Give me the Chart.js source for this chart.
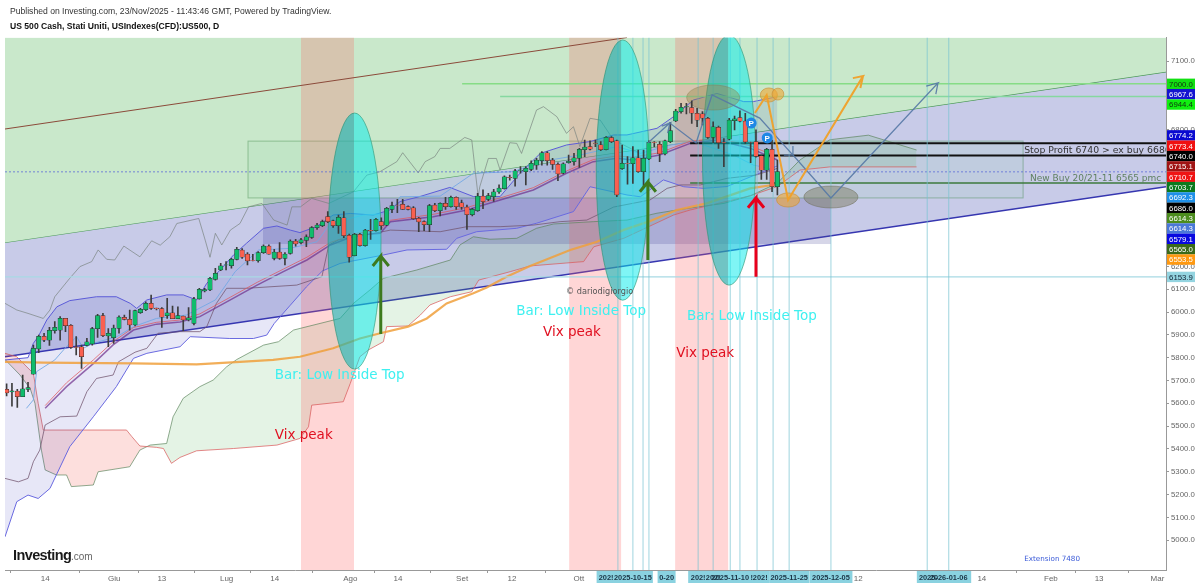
<!DOCTYPE html>
<html>
<head>
<meta charset="utf-8">
<title>US 500 Cash</title>
<script src="https://cdn.jsdelivr.net/npm/chart.js@4"></script>
<style>
  body { margin: 0; background: #fff; }
  canvas { display: block; }
</style>
</head>
<body>
<canvas id="usChart" width="1200" height="585"></canvas>
<script>
// Candles, x = bar number from the left edge
const opens = [5661,5650,5654,5629,5661,5728,5838,5893,5877,5918,5921,5972,5942,5848,5848,5854,5860,5927,5984,5895,5888,5928,5977,5968,5943,5997,6010,6038,6017,6015,5984,5997,5971,5982,5965,5950,6058,6092,6097,6143,6184,6206,6203,6231,6272,6254,6226,6225,6260,6289,6235,6263,6235,6257,6311,6304,6314,6327,6370,6378,6418,6400,6378,6413,6336,6247,6340,6291,6358,6356,6396,6381,6450,6469,6472,6462,6457,6411,6396,6383,6469,6444,6476,6462,6503,6479,6460,6427,6444,6508,6494,6505,6526,6541,6590,6586,6621,6615,6625,6644,6663,6698,6666,6647,6608,6655,6659,6674,6712,6725,6740,6733,6711,6764,6750,6628,6652,6650,6676,6615,6671,6743,6735,6693,6747,6837,6878,6899,6896,6871,6868,6849,6765,6809,6743,6757,6839,6852,6837,6745,6747,6684,6622,6713,6549];
const highs = [5685,5688,5661,5724,5692,5855,5899,5907,5933,5958,5980,5972,5945,5892,5855,5885,5933,5990,5994,5928,5943,5983,5987,6009,6009,6016,6045,6074,6017,6020,6060,6026,6023,5982,6020,6064,6104,6104,6152,6192,6213,6221,6235,6284,6278,6260,6253,6265,6294,6294,6275,6304,6260,6316,6319,6323,6338,6374,6389,6403,6440,6403,6425,6440,6342,6345,6345,6362,6406,6411,6413,6459,6482,6494,6494,6465,6462,6415,6400,6472,6476,6479,6503,6508,6505,6491,6469,6454,6520,6535,6520,6538,6557,6597,6600,6625,6637,6637,6663,6673,6703,6703,6673,6654,6654,6688,6695,6717,6754,6750,6754,6747,6769,6769,6754,6732,6681,6725,6710,6710,6750,6747,6747,6754,6831,6888,6915,6915,6925,6893,6878,6853,6834,6815,6760,6849,6859,6882,6871,6745,6798,6688,6717,6754,6666];
const lows = [5632,5588,5582,5629,5651,5728,5822,5870,5854,5907,5877,5914,5841,5812,5753,5851,5855,5889,5892,5848,5863,5907,5965,5921,5939,5994,6006,6012,6009,5933,5972,5971,5971,5918,5961,5943,6056,6088,6094,6140,6181,6184,6192,6228,6235,6206,6224,6218,6257,6254,6228,6231,6206,6254,6289,6298,6286,6323,6362,6374,6392,6371,6345,6326,6218,6246,6289,6289,6318,6354,6362,6378,6435,6435,6450,6447,6406,6352,6356,6352,6440,6421,6450,6459,6450,6450,6362,6421,6441,6453,6488,6485,6520,6538,6578,6552,6608,6557,6619,6625,6644,6644,6625,6576,6605,6652,6644,6634,6681,6710,6725,6707,6710,6742,6506,6625,6560,6564,6612,6549,6668,6725,6659,6688,6742,6834,6871,6868,6827,6812,6820,6761,6742,6717,6637,6754,6798,6833,6739,6655,6679,6581,6581,6527,6513];
const closes = [5646,5655,5629,5663,5669,5841,5893,5877,5920,5933,5972,5940,5845,5845,5804,5869,5928,5984,5896,5907,5930,5978,5968,5943,6006,6012,6038,6016,6015,5977,5997,5971,5984,5965,5975,6058,6099,6098,6148,6170,6202,6207,6231,6275,6240,6224,6225,6260,6289,6254,6263,6235,6254,6311,6298,6316,6329,6370,6381,6396,6396,6378,6415,6335,6240,6340,6291,6359,6357,6406,6378,6454,6467,6468,6450,6450,6409,6395,6383,6467,6444,6476,6462,6503,6462,6459,6427,6450,6508,6484,6510,6527,6543,6593,6589,6619,6622,6630,6652,6666,6698,6663,6647,6605,6649,6660,6676,6713,6723,6714,6739,6711,6766,6747,6513,6652,6651,6676,6615,6674,6744,6742,6693,6750,6795,6881,6897,6900,6871,6841,6849,6765,6812,6742,6742,6841,6847,6836,6745,6744,6682,6622,6713,6549,6615];

// Indicator lines as [bar, price]
const kumoA = [[-0.3,5792],[2.5,5724],[4.4,5665],[5.3,5600],[6.5,5395],[7.2,5308],[9.3,5286],[11.2,5286],[12.1,5235],[16.2,5242],[17.1,5300],[23,5322],[24.9,5395],[26.8,5417],[29.9,5424],[31.1,5541],[33,5622],[36.1,5673],[38.6,5702],[41.1,5760],[43,5792],[48,5855],[50.8,5870],[53.6,5921],[62.3,5972],[64.8,6038],[67.9,6097],[70.4,6148],[76.6,6184],[82.9,6228],[84.7,6294],[87.2,6330],[90.3,6319],[95.3,6323],[99,6367],[102.2,6386],[109.6,6396],[115.9,6403],[121.5,6433],[127.1,6454],[134,6476],[139,6510],[144,6565],[148.2,6666],[153.8,6755],[161,6775],[170,6710]];
const kumoB = [[-0.3,5819],[1.9,5804],[5,5731],[5.9,5600],[6.85,5483],[22.4,5483],[23.4,5454],[24.9,5413],[28,5407],[29.3,5402],[30.8,5337],[32.4,5363],[35.5,5392],[42.4,5402],[50.5,5417],[54.8,5446],[56.4,5497],[57,5592],[62.9,5607],[64.2,5687],[66,5804],[67.6,5834],[70.4,5870],[71,5936],[75,5939],[77.3,5987],[79.1,6031],[82.9,6067],[86.9,6089],[88.2,6140],[94.1,6177],[97.8,6202],[107.8,6221],[109.7,6286],[115.3,6323],[124.6,6425],[127.7,6447],[139,6510],[144,6550],[148.2,6622],[153.8,6636],[170,6636]];
const kijun = [[-0.3,5271],[2.2,5256],[4,5271],[5,5344],[6.2,5395],[7.2,5505],[10,5541],[13.1,5544],[15,5651],[16.8,5709],[19.9,5724],[20.9,5782],[24,5824],[26.2,5841],[28.3,5907],[32.4,5914],[36.1,5914],[37.4,5936],[39.2,6038],[41.1,6104],[44.8,6104],[54.2,6118],[57,6140],[58.9,6155],[60.2,6294],[62,6316],[67.3,6338],[71.7,6359],[81,6352],[86,6374],[92.2,6374],[98.4,6381],[103.4,6396],[108.4,6403],[113.4,6460],[120.2,6491],[123.4,6542],[125.9,6557],[129.6,6557],[134.6,6586],[140,6600],[144,6630]];
const chikou = [[-0.3,6038],[1.9,6009],[4,5994],[6.85,5972],[8.1,6009],[9,6067],[11.8,6148],[13.7,6199],[15.9,6221],[17.1,6272],[18.7,6231],[20.2,6228],[21.9,6289],[24.9,6242],[27.1,6312],[28.7,6293],[30.5,6330],[31.8,6388],[35.9,6410],[37.1,6315],[38,6240],[39,6345],[40.2,6294],[41.8,6359],[43.6,6388],[45.2,6461],[47.7,6476],[49.9,6403],[52.4,6381],[53.3,6461],[54.9,6461],[57,6498],[60.2,6476],[64.8,6527],[67.3,6600],[69.75,6615],[72.9,6659],[74,6698],[76.9,6610],[78.2,6659],[80,6681],[81,6717],[82.8,6717],[84.1,6739],[85.6,6765],[86.9,6754],[88.1,6505],[88.4,6549],[90,6673],[91.5,6673],[92.2,6622],[94,6742],[95.3,6739],[96.2,6695],[99,6885],[100.3,6900],[102.8,6856],[104.6,6783],[105.9,6812],[107.1,6725],[109,6849],[110.9,6841],[113.4,6754],[118,6700]];
const bbUpper = [[-0.3,5790],[4,5800],[5,5863],[5.9,5892],[7.5,5965],[9.4,6023],[11.8,6050],[16.8,6067],[20.5,6067],[23.1,6038],[24.3,6016],[26.2,6053],[29.9,6075],[33,6075],[35.5,6053],[37.4,6126],[39.9,6184],[42.4,6250],[44.8,6301],[48,6367],[50.5,6377],[53,6359],[54.8,6348],[57.9,6374],[61,6425],[64.2,6432],[68.5,6425],[71.6,6447],[73.5,6484],[77.2,6506],[82.8,6546],[87.2,6506],[92.2,6506],[95.9,6608],[99.7,6695],[104.6,6732],[109,6747],[113.4,6776],[115.9,6776],[121.5,6805],[124.6,6856],[128.3,6929],[132.7,6958],[137.7,6922],[139.5,6922],[144,6944]];
const bbLower = [[-0.3,5015],[1.9,5169],[4,5198],[5.9,5183],[8.1,5227],[11.8,5410],[16.2,5541],[20.5,5673],[23.7,5797],[26.2,5819],[32.4,5848],[34.3,5892],[41.7,5884],[46.1,5884],[48.6,5899],[50,5950],[53,6030],[56,6110],[59,6180],[62.3,6213],[70.4,6250],[74.8,6272],[82.2,6275],[84.1,6323],[87.8,6352],[95.3,6367],[99,6389],[105.9,6440],[109,6549],[115.9,6513],[118.4,6505],[122.7,6579],[126.5,6549],[130.2,6542],[134.6,6550],[138.3,6586],[144,6640]];
const bbMid = [[3.7,5578],[5,5615],[5.6,5739],[9,5790],[10.9,5841],[13.1,5892],[14.3,5841],[16.2,5863],[20.6,5892],[23.7,5936],[28,5972],[33.6,5987],[39,6053],[42.7,6177],[47.1,6272],[53,6279],[58,6308],[60.5,6389],[66.7,6425],[71.7,6432],[73.5,6505],[81,6508],[87.2,6608],[94.7,6615],[99.7,6659],[107.1,6688],[114,6725],[118.4,6695],[124,6732],[128.3,6747],[135.8,6688],[139.5,6644],[144,6622]];
const maPurple = [[7.2,5578],[11.2,5673],[16.2,5774],[19.9,5856],[23.7,5921],[28,5947],[32.4,5956],[36.1,5980],[41.8,6053],[46.8,6118],[51.7,6177],[56.1,6228],[60.5,6294],[65.5,6338],[69.8,6345],[71.7,6396],[79.7,6418],[86,6447],[92.2,6491],[98.4,6535],[104.6,6608],[109.6,6659],[114,6674],[117,6666],[122,6688],[127.7,6739],[132.7,6754],[139,6717],[144,6666]];
const maRed = [[7.2,5590],[11.2,5690],[16.2,5790],[19.9,5870],[23.7,5932],[28,5955],[32.4,5965],[36.1,5992],[41.8,6065],[46.8,6130],[51.7,6188],[56.1,6240],[60.5,6305],[65.5,6345],[69.8,6360],[71.7,6402],[79.7,6428],[86,6458],[92.2,6500],[98.4,6545],[104.6,6618],[109.6,6668],[114,6684],[117,6678],[122,6698],[127.7,6748],[132.7,6762],[139,6728],[144,6680]];
const ma200 = [[-0.3,5782],[6.85,5778],[23.7,5775],[35.5,5771],[43.6,5782],[49.8,5790],[54.8,5804],[61,5841],[66,5884],[69.8,5907],[75,5936],[78.5,5972],[82.2,6038],[87.2,6082],[89.7,6108],[93.4,6155],[97.8,6202],[105.3,6272],[110.3,6308],[115.3,6360],[119.9,6396],[125.2,6447],[130.8,6476],[138.9,6542],[144,6560]];

// Trend channel and drawn levels
const channelTop = [[-0.3,6302],[216.6,7050]];
const channelBottom = [[-0.3,5804],[216.6,6549]];
const brownTrend = [[-0.3,6802],[115.9,7203]];
const levels = [[7000,85.1],[6944.4,92.2],[6740,127.7],[6686,127.7],[6565,127.7],[6614.3,-0.3],[6153.9,-0.3]];
const levelColors = ['#86dc86','#86d8a0','#111111','#111111','#3d7a3d','#5a6ad8','#a8dae4'];
const levelWidths = [1.5,1.5,2,2,1.5,0.8,1.2];

const vixBands = [[55,64.9],[105.1,114.8],[124.9,134.8]];
const cycleLines = [114.2,117,118.9,120,129.2,132,135.2,137,140.2,143.2,146.2,154,172,176];

// Hand drawn paths on the chart
const arrowGreen1 = [[69.9,5904],[69.9,6245],[68.4,6202],[69.9,6245],[71.4,6202]];
const arrowGreen2 = [[119.8,6228],[119.8,6570],[118.3,6527],[119.8,6570],[121.3,6527]];
const arrowRed = [[140,6155],[140,6500],[138.5,6457],[140,6500],[141.5,6457]];
const orangePath = [[139.8,6872],[142,6951],[146,6491],[160,7034],[158.1,7025],[160,7034],[159.5,6982]];
const bluePath = [[119.8,6741],[123.9,6828],[122.4,6815],[123.9,6828],[123.5,6784],[123.9,6828],[128.8,6741],[131.8,6951],[140.7,6850],[146.9,6688],[145.2,6688],[146.9,6688],[146.9,6728],[146.9,6688],[154,6500],[174,7004],[171.8,6990],[174,7004],[173.6,6955]];

// Ellipses: centre bar, centre price, half width in bars, half height in price
const cyanEllipses = [[65,6311,4.95,561],[115.1,6622,4.95,570],[134.96,6666,4.95,548]];
const oliveEllipses = [[132,6940,4.95,55]];
const grayEllipses = [[154,6504,5.05,48]];
const orangeEllipses = [[142.4,6951,1.6,31],[144.1,6955,1.1,26],[146,6491,2.15,31]];
const pMarks = [[139.1,6828],[142.1,6763]];

// Text on the chart
const barNotes = [[50.1,5707],[95.2,5987],[127.1,5965]];
const vixNotes = [[50.1,5444],[100.2,5895],[125.1,5803]];

// Price tags on the right
const tagPrices = [7000,6967.6,6944.4,6774.2,6773.4,6740,6715.1,6710.7,6703.7,6692.3,6686,6614.3,6614.3,6579.1,6565,6553.5];
const tagColors = ['#12e012','#1414d0','#10f010','#0a0ad0','#f01010','#000000','#a01414','#f01414','#0a7a1e','#1e90e8','#000000','#4c8c1e','#4a78d8','#0808e0','#3a6a1a','#ff9910'];
const tagText = ['#113311','#ffffff','#113311','#ffffff','#ffffff','#ffffff','#ffffff','#ffffff','#ffffff','#ffffff','#ffffff','#ffffff','#ffffff','#ffffff','#ffffff','#ffffff'];

// Axis labels
const tickBars = [7.2,20.1,29,41.1,50.1,64.2,73.1,85.1,94.4,106.9,159.1,182.2,195.1,204.1,215];
const tickNames = ['14','Giu','13','Lug','14','Ago','14','Set','12','Ott','12','14','Feb','13','Mar'];
const dateTags = [[112,'202!',17],[117,'2025-10-15',38],[123.3,'0-20',16],[129.2,'202!',18],[132,'202!',16],[135.2,'2025-11-10',38],[139.2,'!',4],[140.8,'202!',16],[146.2,'2025-11-25',38],[154,'2025-12-05',41],[172.2,'2025-',21],[176,'2026-01-06',43]];

const pairs = p => p.map(v => ({ x: v[0], y: v[1] }));
const lineDs = (label, pts, color, width, extra) => Object.assign({
    type: 'line', label: label, data: pairs(pts), borderColor: color, borderWidth: width,
    pointRadius: 0, tension: 0, fill: false
}, extra || {});

const yMin = 4869.6, yMax = 7203, xMin = -0.3, xMax = 216.6;

const datasets = [
    lineDs('top', channelTop, '#4d9a5a', 1.3, { fill: 'end', backgroundColor: 'rgb(201,232,203)' }),
    lineDs('bottom', channelBottom, '#3636b0', 1.3, { fill: { target: 0 }, backgroundColor: 'rgb(200,203,232)' }),
    lineDs('kumoA', kumoA, 'rgba(90,130,90,0.75)', 0.9, { fill: { target: 3, above: 'rgba(76,175,80,0.15)', below: 'rgba(244,67,54,0.17)' } }),
    lineDs('kumoB', kumoB, 'rgba(215,90,90,0.8)', 0.9),
    lineDs('bbUpper', bbUpper, '#5c5cd8', 1, { fill: { target: 5 }, backgroundColor: 'rgba(60,60,190,0.12)' }),
    lineDs('bbLower', bbLower, '#6a6ae0', 1),
    lineDs('bbMid', bbMid, '#74a8e4', 0.9),
    lineDs('kijun', kijun, 'rgba(115,85,110,0.85)', 0.9),
    lineDs('chikou', chikou, 'rgba(120,130,125,0.75)', 0.9),
    lineDs('maRed', maRed, 'rgba(225,80,90,0.8)', 0.9),
    lineDs('maPurple', maPurple, 'rgba(110,45,140,0.7)', 1.5),
    lineDs('ma200', ma200, 'rgba(240,160,60,0.85)', 2.2),
    lineDs('brown', brownTrend, '#8b4a3a', 1)
];
levels.forEach((l, i) => {
    datasets.push(lineDs('level' + i, [[l[1], l[0]], [xMax, l[0]]], levelColors[i], levelWidths[i],
        i === 5 ? { borderDash: [2, 2] } : {}));
});
cycleLines.forEach((x, i) => {
    datasets.push(lineDs('cycle' + i, [[x, yMin], [x, yMax]], 'rgba(120,195,210,0.55)', 1.3));
});
// Wick and body bars, then the arrows on top
datasets.push({
    type: 'bar', label: 'wick', grouped: false, barThickness: 1, backgroundColor: '#3c3c3c',
    data: highs.map((h, i) => ({ x: i, y: [lows[i], h] }))
});
datasets.push({
    type: 'bar', label: 'body', grouped: false, barThickness: 4.4, borderWidth: 0.5, borderSkipped: false,
    borderColor: '#2a2a2a',
    backgroundColor: closes.map((c, i) => c >= opens[i] ? '#10bc6c' : '#fa6050'),
    data: opens.map((o, i) => ({ x: i, y: [o, closes[i]] }))
});
datasets.push(lineDs('blue', bluePath, 'rgba(85,120,165,0.9)', 1.3));
datasets.push(lineDs('orange', orangePath, 'rgba(240,160,40,0.95)', 2));
datasets.push(lineDs('up1', arrowGreen1, '#3d7a1e', 3));
datasets.push(lineDs('up2', arrowGreen2, '#3d7a1e', 3));
datasets.push(lineDs('up3', arrowRed, '#e8001c', 3));
datasets.forEach((d, i) => { d.order = datasets.length - i; });

function ellipsePath(chart, e) {
    const { ctx, scales: { x, y } } = chart;
    const cx = x.getPixelForValue(e[0]), cy = y.getPixelForValue(e[1]);
    const rx = x.getPixelForValue(e[0] + e[2]) - cx, ry = cy - y.getPixelForValue(e[1] + e[3]);
    ctx.beginPath();
    ctx.ellipse(cx, cy, rx, ry, 0, 0, Math.PI * 2);
}

function fillEllipses(chart, list, fill, stroke) {
    const { ctx } = chart;
    list.forEach(e => {
        ellipsePath(chart, e);
        ctx.fillStyle = fill;
        ctx.fill();
        ctx.lineWidth = 1;
        ctx.strokeStyle = stroke;
        ctx.stroke();
    });
}

const drawings = {
    id: 'drawings',
    beforeDatasetDraw(chart, args) {
        const label = chart.data.datasets[args.index].label;
        const { ctx, chartArea: a, scales: { x, y } } = chart;
        ctx.save();
        ctx.beginPath();
        ctx.rect(a.left, a.top, a.width, a.height);
        ctx.clip();
        if (label === 'kumoA') {
            // boxes and vix bands sit under the indicators
            let l = x.getPixelForValue(45.1), r = x.getPixelForValue(189.9), t = y.getPixelForValue(6749), b = y.getPixelForValue(6500);
            ctx.fillStyle = 'rgba(150,215,170,0.14)';
            ctx.fillRect(l, t, r - l, b - t);
            ctx.strokeStyle = 'rgba(70,140,80,0.45)';
            ctx.lineWidth = 1;
            ctx.strokeRect(l, t, r - l, b - t);
            l = x.getPixelForValue(47.9); r = x.getPixelForValue(154); t = b; b = y.getPixelForValue(6298);
            ctx.fillStyle = 'rgba(70,70,150,0.22)';
            ctx.fillRect(l, t, r - l, b - t);
            vixBands.forEach(v => {
                const x0 = x.getPixelForValue(v[0]), x1 = x.getPixelForValue(v[1]);
                ctx.fillStyle = 'rgba(255,90,90,0.25)';
                ctx.fillRect(x0, a.top, x1 - x0, a.height);
            });
        }
        if (label === 'wick') {
            fillEllipses(chart, cyanEllipses, 'rgba(0,235,235,0.5)', 'rgba(60,160,130,0.7)');
            // part of each ellipse over a vix band reads darker
            cyanEllipses.forEach((e, i) => {
                ctx.save();
                ellipsePath(chart, e);
                ctx.clip();
                const x0 = x.getPixelForValue(vixBands[i][0]), x1 = x.getPixelForValue(vixBands[i][1]);
                ctx.fillStyle = 'rgba(40,50,50,0.16)';
                ctx.fillRect(x0, a.top, x1 - x0, a.height);
                ctx.restore();
            });
            fillEllipses(chart, oliveEllipses, 'rgba(150,135,70,0.4)', 'rgba(130,120,70,0.4)');
            fillEllipses(chart, grayEllipses, 'rgba(125,125,100,0.5)', 'rgba(110,110,90,0.5)');
            fillEllipses(chart, orangeEllipses, 'rgba(240,165,50,0.6)', 'rgba(200,140,50,0.6)');
        }
        ctx.restore();
    },
    afterDraw(chart) {
        const { ctx, chartArea: a, scales: { x, y } } = chart;
        ctx.save();
        ctx.textBaseline = 'alphabetic';
        ctx.textAlign = 'left';

        // notes, cut at the plot edge
        ctx.save();
        ctx.beginPath();
        ctx.rect(a.left, a.top, a.width, a.height);
        ctx.clip();
        ctx.font = '13.5px "DejaVu Sans"';
        ctx.fillStyle = '#3ff0f0';
        barNotes.forEach(n => ctx.fillText('Bar: Low Inside Top', x.getPixelForValue(n[0]), y.getPixelForValue(n[1])));
        ctx.fillStyle = '#e01020';
        vixNotes.forEach(n => ctx.fillText('Vix peak', x.getPixelForValue(n[0]), y.getPixelForValue(n[1])));
        ctx.font = '9.3px "DejaVu Sans"';
        ctx.fillStyle = '#333';
        ctx.fillText('Stop Profit 6740 > ex buy 6686', x.getPixelForValue(190.1), y.getPixelForValue(6697));
        ctx.font = '9px "DejaVu Sans"';
        ctx.fillStyle = '#5f8060';
        ctx.fillText('New Buy 20/21-11 6565 pmc', x.getPixelForValue(191.2), y.getPixelForValue(6574));
        ctx.font = '7.2px "DejaVu Sans"';
        ctx.fillStyle = '#3a5ad8';
        ctx.fillText('Extension 7480', x.getPixelForValue(190.1), y.getPixelForValue(4909));
        ctx.font = '8.2px "DejaVu Sans"';
        ctx.fillStyle = '#555';
        ctx.fillText('© dariodigiorgio', x.getPixelForValue(104.5), y.getPixelForValue(6079));
        ctx.restore();

        // P markers
        pMarks.forEach(p => {
            const px = x.getPixelForValue(p[0]), py = y.getPixelForValue(p[1]);
            ctx.beginPath();
            ctx.arc(px, py, 5.5, 0, Math.PI * 2);
            ctx.fillStyle = '#1e88e5';
            ctx.fill();
            ctx.fillStyle = '#fff';
            ctx.font = 'bold 8px "Liberation Sans"';
            ctx.textAlign = 'center';
            ctx.fillText('P', px, py + 3);
        });

        // price tags pushed down so they do not overlap
        ctx.font = '7.8px "Liberation Sans"';
        ctx.textAlign = 'center';
        let prev = -100;
        tagPrices.forEach((v, i) => {
            let py = y.getPixelForValue(v);
            if (py < prev + 10.35) py = prev + 10.35;
            prev = py;
            ctx.fillStyle = tagColors[i];
            ctx.fillRect(a.right + 1, py - 5.2, 28, 10.4);
            ctx.fillStyle = tagText[i];
            ctx.fillText(v.toFixed(1), a.right + 15, py + 2.8);
        });
        let py = y.getPixelForValue(6153.9);
        ctx.fillStyle = '#94d4e0';
        ctx.fillRect(a.right + 1, py - 5.2, 28, 10.4);
        ctx.fillStyle = '#123';
        ctx.fillText('6153.9', a.right + 15, py + 2.8);

        // date tags under the axis
        ctx.font = 'bold 7.4px "Liberation Sans"';
        dateTags.forEach(t => {
            const cx = x.getPixelForValue(t[0]);
            ctx.fillStyle = '#8ad2e0';
            ctx.fillRect(cx - t[2] / 2 - 1, a.bottom + 1, t[2] + 2, 12);
        });
        dateTags.forEach(t => {
            ctx.fillStyle = '#1a3445';
            ctx.fillText(t[1], x.getPixelForValue(t[0]), a.bottom + 10);
        });

        // header and logo
        ctx.textAlign = 'left';
        ctx.fillStyle = '#333';
        ctx.font = '8.6px "Liberation Sans"';
        ctx.fillText('Published on Investing.com, 23/Nov/2025 - 11:43:46 GMT, Powered by TradingView.', 10, 14);
        ctx.fillStyle = '#111';
        ctx.font = 'bold 8.6px "Liberation Sans"';
        ctx.fillText('US 500 Cash, Stati Uniti, USIndexes(CFD):US500, D', 10, 29);
        ctx.font = 'bold 14.5px "Liberation Sans"';
        ctx.letterSpacing = '-0.6px';
        ctx.fillStyle = '#1a1a1a';
        ctx.fillText('Investing', 13, 560);
        ctx.letterSpacing = '0px';
        ctx.font = '10px "Liberation Sans"';
        ctx.fillStyle = '#666';
        ctx.fillText('.com', 71, 560);
        ctx.restore();
    }
};

new Chart(document.getElementById('usChart'), {
    type: 'bar',
    data: { datasets: datasets },
    plugins: [drawings],
    options: {
        responsive: false,
        animation: false,
        layout: { padding: { left: 5, top: 37.5, right: 0, bottom: 0 } },
        plugins: { legend: { display: false }, tooltip: { enabled: false }, title: { display: false } },
        scales: {
            x: {
                type: 'linear', min: xMin, max: xMax, offset: false,
                afterBuildTicks: s => { s.ticks = tickBars.map(v => ({ value: v })); },
                afterFit: s => { s.height = 15; },
                border: { color: '#999' },
                grid: { drawOnChartArea: false, tickLength: 3, color: '#999' },
                ticks: {
                    autoSkip: false, maxRotation: 0, padding: 1, color: '#666',
                    font: { family: 'Liberation Sans', size: 8 },
                    callback: (v, i) => tickNames[i]
                }
            },
            y: {
                position: 'right', min: yMin, max: yMax,
                afterBuildTicks: s => { s.ticks = s.ticks.filter(t => t.value % 100 === 0); },
                afterFit: s => { s.width = 34; },
                border: { color: '#999' },
                grid: { drawOnChartArea: false, tickLength: 3, color: '#999' },
                ticks: {
                    stepSize: 100, padding: 2, color: '#666',
                    font: { family: 'Liberation Sans', size: 7.8 },
                    callback: v => v.toFixed(1)
                }
            }
        }
    }
});
</script>
</body>
</html>
